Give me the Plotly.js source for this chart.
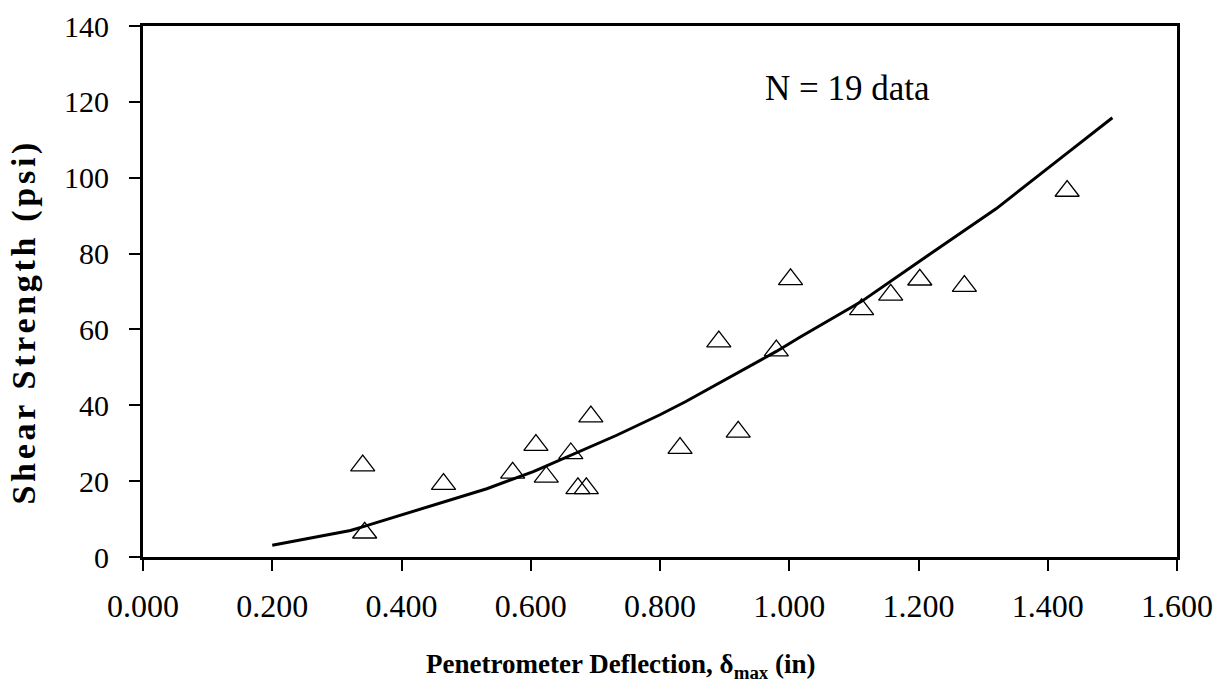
<!DOCTYPE html>
<html>
<head>
<meta charset="utf-8">
<script src="https://cdn.plot.ly/plotly-3.0.1.min.js"></script>
<style>
  html, body { margin: 0; padding: 0; background: #fff; }
  #chart { width: 1218px; height: 685px; }
</style>
</head>
<body>
<div id="chart"></div>
<script>
// Measured data points (open triangles)
const deflection = [0.340, 0.343, 0.465, 0.572, 0.608, 0.624, 0.662, 0.673, 0.686, 0.693,
                    0.831, 0.891, 0.921, 0.980, 1.002, 1.112, 1.157, 1.202, 1.271, 1.430];
const shearStrength = [24.1, 6.4, 19.2, 22.2, 29.5, 21.1, 27.3, 18.1, 18.1, 37.0,
                       28.7, 56.8, 33.0, 54.4, 73.2, 65.3, 69.1, 73.1, 71.4, 96.5];

// Trend curve
const curveX = [0.200, 0.243, 0.321, 0.341, 0.398, 0.465, 0.532, 0.604, 0.661, 0.733,
                0.800, 0.840, 0.980, 1.017, 1.095, 1.112, 1.200, 1.320, 1.430, 1.500];
const curveY = [3.1, 4.5, 7.0, 8.0, 11.0, 14.5, 18.0, 22.5, 26.8, 32.1,
                37.5, 41.0, 54.2, 58.0, 65.7, 67.4, 77.8, 91.8, 106.5, 115.8];

// Tick labels
const xTicks = [0, 0.2, 0.4, 0.6, 0.8, 1.0, 1.2, 1.4, 1.6];
const xTickText = ['0.000', '0.200', '0.400', '0.600', '0.800', '1.000', '1.200', '1.400', '1.600'];
const yTicks = [0, 20, 40, 60, 80, 100, 120, 140];

// Texts
const xTitle = '<b>Penetrometer Deflection, δ<sub>max</sub> (in)</b>';
const yTitle = '<b><span style="letter-spacing:3.7px">Shear Strength (psi)</span></b>';
const noteText = 'N = 19 data';

const serif = 'Liberation Serif, Times New Roman, serif';

const traces = [
  {
    x: curveX, y: curveY, type: 'scatter', mode: 'lines',
    line: { color: '#000', width: 3 },
    hoverinfo: 'skip', showlegend: false
  },
  {
    x: deflection, y: shearStrength, type: 'scatter', mode: 'markers',
    marker: { symbol: 'triangle-up-open', size: 21, color: '#000', line: { color: '#000', width: 1.3 } },
    showlegend: false
  }
];

const layout = {
  width: 1218, height: 685,
  margin: { l: 143, r: 41, t: 26, b: 128 },
  paper_bgcolor: '#fff', plot_bgcolor: '#fff',
  font: { family: serif, color: '#000' },
  showlegend: false,
  xaxis: {
    range: [0, 1.6], tickmode: 'array', tickvals: xTicks, ticktext: xTickText,
    showgrid: false, zeroline: false,
    showline: true, linecolor: '#000', linewidth: 3, mirror: true,
    ticks: 'outside', ticklen: 11, tickwidth: 2, tickcolor: '#000',
    ticklabelstandoff: 8,
    tickfont: { family: serif, size: 32, color: '#000' }
  },
  yaxis: {
    range: [0, 140], tickmode: 'array', tickvals: yTicks,
    showgrid: false, zeroline: false,
    showline: true, linecolor: '#000', linewidth: 3, mirror: true,
    ticks: 'outside', ticklen: 11, tickwidth: 2, tickcolor: '#000',
    ticklabelstandoff: 14,
    tickfont: { family: serif, size: 30, color: '#000' }
  },
  annotations: [
    {
      x: 1.0894, y: 123.6, xref: 'x', yref: 'y',
      text: noteText, showarrow: false,
      font: { family: serif, size: 35, color: '#000' }
    },
    {
      x: 0.4618, y: -0.1695, xref: 'paper', yref: 'paper',
      xanchor: 'center', yanchor: 'top',
      text: xTitle, showarrow: false,
      font: { family: serif, size: 27, color: '#000' }
    },
    {
      x: -0.1151, y: 0.4435, xref: 'paper', yref: 'paper',
      xanchor: 'center', yanchor: 'middle', textangle: -90,
      text: yTitle, showarrow: false,
      font: { family: serif, size: 34, color: '#000' }
    }
  ]
};

Plotly.newPlot('chart', traces, layout, { staticPlot: true, displayModeBar: false });
</script>
</body>
</html>
